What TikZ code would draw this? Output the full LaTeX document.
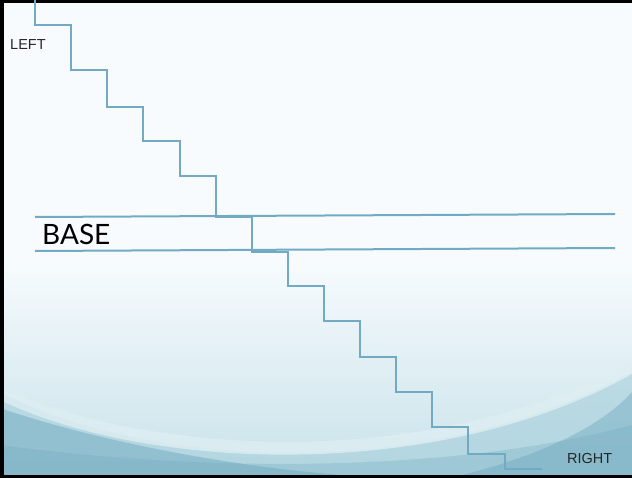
\documentclass[tikz,border=0pt]{standalone}
\usepackage{fontspec}
\setmainfont{Liberation Sans}
\newfontfamily\basefont{Lato}
\definecolor{stair}{RGB}{114,170,196}
\definecolor{bgtop}{RGB}{247,251,253}
\definecolor{bgmid}{RGB}{240,247,250}
\definecolor{bgbot}{RGB}{200,226,234}
\definecolor{tealmid}{RGB}{165,206,218}
\definecolor{tealdark}{RGB}{112,170,192}
\definecolor{teallite}{RGB}{222,238,243}
\tikzset{
  stairline/.style={draw=stair, line width=2pt, line join=miter},
  baseline/.style={draw=stair, line width=2pt},
  smalllabel/.style={font=\fontsize{14.5}{16}\selectfont, text=black!85, inner sep=0pt},
  biglabel/.style={font=\basefont\fontsize{28}{32}\selectfont, text=black, inner sep=0pt},
}
\begin{document}
\begin{tikzpicture}[x=1pt,y=-1pt]
\useasboundingbox (0,0) rectangle (632,478);
% background
\fill[bgtop] (0,0) rectangle (632,478);
\shade[top color=bgtop, bottom color=bgbot] (0,260) rectangle (632,478);
% waves
\fill[tealmid, opacity=0.6] (0,392) .. controls (150,470) and (430,482) .. (632,372) -- (632,478) -- (0,478) -- cycle;
\fill[teallite, opacity=0.8] (0,388) .. controls (160,458) and (430,470) .. (632,362) -- (632,374) .. controls (440,482) and (150,472) .. (0,400) -- cycle;
\fill[tealdark, opacity=0.5] (0,408) .. controls (100,442) and (250,472) .. (390,478) -- (0,478) -- cycle;
\fill[tealdark, opacity=0.45] (450,478) .. controls (535,458) and (600,428) .. (632,392) -- (632,478) -- cycle;
\fill[tealdark, opacity=0.3] (0,445) .. controls (200,472) and (450,474) .. (632,425) -- (632,478) -- (0,478) -- cycle;
% border
\fill[black] (0,0) rectangle (4,478);
\fill[black] (0,0) rectangle (632,3);
\fill[black] (0,475) rectangle (632,478);
% base lines
\coordinate (btl) at (35,217);
\coordinate (btr) at (615,214);
\coordinate (bbl) at (35,251);
\coordinate (bbr) at (615,248);
\draw[baseline] (btl) -- (btr);
\draw[baseline] (bbl) -- (bbr);
% staircase
\draw[stairline] (35,0) -- (35,25) -- (71,25) -- (71,70) -- (107,70) -- (107,107)
  -- (143,107) -- (143,141) -- (180,141) -- (180,176) -- (216,176) -- (216,217)
  -- (252,217) -- (252,252) -- (288,252) -- (288,286) -- (324,286) -- (324,321)
  -- (360,321) -- (360,357) -- (396,357) -- (396,392) -- (432,392) -- (432,427)
  -- (468,427) -- (468,454) -- (505,454) -- (505,469) -- (542,469);
% labels
\node[smalllabel, anchor=base west] (left) at (10,50) {LEFT};
\node[smalllabel, anchor=base west] (right) at (567,463) {RIGHT};
\node[biglabel, anchor=base west] (base) at (42,245) {BASE};
\end{tikzpicture}
\end{document}
